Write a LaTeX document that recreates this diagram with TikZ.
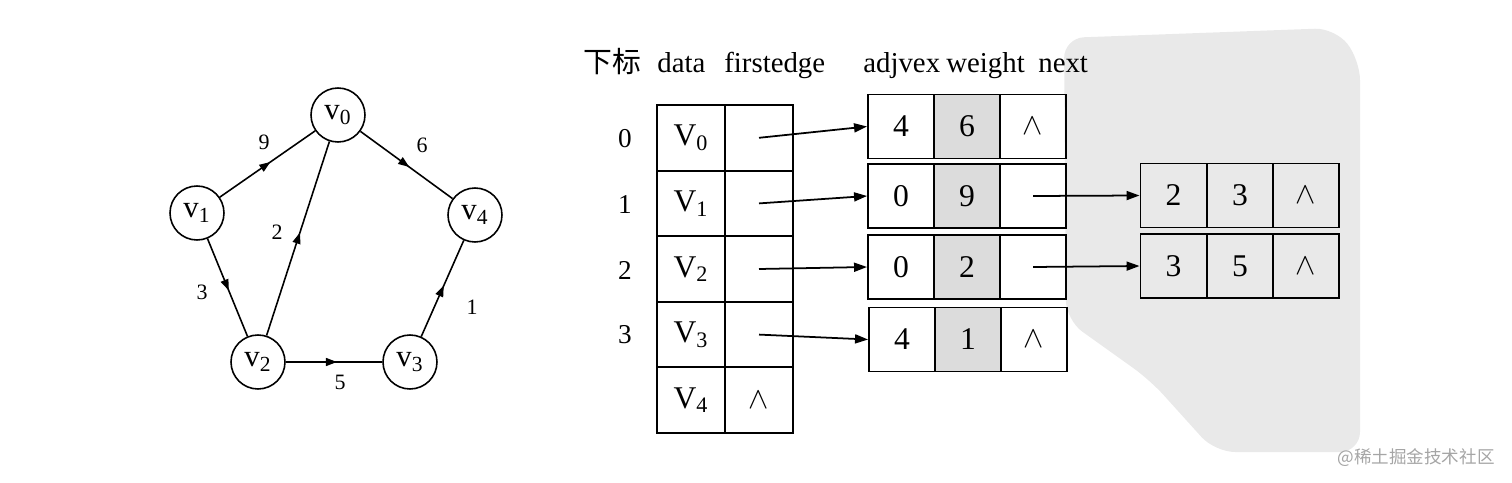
\documentclass[tikz,border=0pt]{standalone}
\usepackage{fontspec}
\setmainfont{Liberation Serif}
\newfontfamily\cjk{Noto Sans CJK SC}
\usetikzlibrary{arrows.meta,decorations.markings}
\definecolor{wmgray}{RGB}{233,233,233}
\definecolor{wgray}{RGB}{220,220,220}
\definecolor{wmtext}{RGB}{165,165,165}
\tikzset{
  cell/.style={draw, line width=1.1pt, minimum width=1.36cm, minimum height=1.312cm, inner sep=0pt, font=\fontsize{18}{18}\selectfont},
  ecell/.style={cell, minimum width=1.32cm, minimum height=1.28cm},
  wcell/.style={ecell, fill=wgray},
  vtx/.style={circle, draw, line width=0.9pt, minimum size=1.08cm, inner sep=0pt, font=\fontsize{17.5}{17.5}\selectfont},
  wlab/.style={font=\fontsize{12.5}{12.5}\selectfont, inner sep=0pt},
  gedge/.style={line width=0.9pt, postaction={decorate}, decoration={markings, mark=at position 0.53 with {\arrow{Triangle[length=0.22cm,width=0.16cm]}}}},
  ptr/.style={line width=1pt, -{Triangle[length=0.26cm,width=0.18cm]}},
  hdr/.style={anchor=base west, font=\fontsize{16.4}{16.4}\selectfont, inner sep=0pt},
  idx/.style={font=\fontsize{15.5}{15.5}\selectfont, inner sep=0pt},
}
\newcommand{\nil}{$\wedge$}
\begin{document}
\begin{tikzpicture}[x=0.02cm, y=-0.02cm]
\useasboundingbox (0,0) rectangle (1512,483);
% watermark background
\fill[wmgray, rounded corners=0.4cm] (1064,38) -- (1335,28) -- (1360,60) -- (1360,452) -- (1215,452) -- (1150,380) -- (1066,320) -- cycle;
\node[anchor=east, text=wmtext, font=\cjk\fontsize{10}{10}\selectfont, inner sep=0pt] (wm) at (1495,458) {@稀土掘金技术社区};

% graph
\node[vtx] (v0) at (338,115) {v\textsubscript{0}};
\node[vtx] (v1) at (197,213) {v\textsubscript{1}};
\node[vtx] (v4) at (475,215) {v\textsubscript{4}};
\node[vtx] (v2) at (258,362) {v\textsubscript{2}};
\node[vtx] (v3) at (410,362) {v\textsubscript{3}};
\draw[gedge] (v1) -- (v0);
\draw[gedge] (v0) -- (v4);
\draw[gedge] (v2) -- (v0);
\draw[gedge] (v1) -- (v2);
\draw[gedge] (v2) -- (v3);
\draw[gedge] (v3) -- (v4);
\node[wlab] (l9) at (264,142) {9};
\node[wlab] (l6) at (422,145) {6};
\node[wlab] (l2) at (277,232) {2};
\node[wlab] (l3) at (202,292) {3};
\node[wlab] (l5) at (340,382) {5};
\node[wlab] (l1) at (472,307) {1};

% headers
\node[hdr] (h0) at (583,73) {\cjk 下标};
\node[hdr] (h1) at (657,73) {data};
\node[hdr] (h2) at (724,73) {firstedge};
\node[hdr] (h3) at (863,73) {adjvex};
\node[hdr] (h4) at (946,73) {weight};
\node[hdr] (h5) at (1038,73) {next};

% index labels
\node[idx] (i0) at (625,139) {0};
\node[idx] (i1) at (625,205) {1};
\node[idx] (i2) at (625,270) {2};
\node[idx] (i3) at (625,335) {3};

% vertex table
\node[cell] (d0) at (691,137.8) {V\textsubscript{0}};
\node[cell] (p0) at (759,137.8) {};
\node[cell] (d1) at (691,203.4) {V\textsubscript{1}};
\node[cell] (p1) at (759,203.4) {};
\node[cell] (d2) at (691,269.0) {V\textsubscript{2}};
\node[cell] (p2) at (759,269.0) {};
\node[cell] (d3) at (691,334.6) {V\textsubscript{3}};
\node[cell] (p3) at (759,334.6) {};
\node[cell] (d4) at (691,400.2) {V\textsubscript{4}};
\node[cell] (p4) at (759,400.2) {\nil};

% edge nodes, first level
\node[ecell] (e0a) at (901,126.5) {4};
\node[wcell] (e0b) at (967,126.5) {6};
\node[ecell] (e0c) at (1033,126.5) {\nil};
\node[ecell] (e1a) at (901,196) {0};
\node[wcell] (e1b) at (967,196) {9};
\node[ecell] (e1c) at (1033,196) {};
\node[ecell] (e2a) at (901,267) {0};
\node[wcell] (e2b) at (967,267) {2};
\node[ecell] (e2c) at (1033,267) {};
\node[ecell] (e3a) at (902,339.5) {4};
\node[wcell] (e3b) at (968,339.5) {1};
\node[ecell] (e3c) at (1034,339.5) {\nil};

% edge nodes, second level
\node[ecell] (f1a) at (1173.5,195.5) {2};
\node[ecell] (f1b) at (1240,195.5) {3};
\node[ecell] (f1c) at (1306,195.5) {\nil};
\node[ecell] (f2a) at (1173.5,266) {3};
\node[ecell] (f2b) at (1240,266) {5};
\node[ecell] (f2c) at (1306,266) {\nil};

% pointers
\draw[ptr] (p0.center) -- (e0a.west);
\draw[ptr] (p1.center) -- (e1a.west);
\draw[ptr] (p2.center) -- (e2a.west);
\draw[ptr] (p3.center) -- (e3a.west);
\draw[ptr] (e1c.center) -- (f1a.west);
\draw[ptr] (e2c.center) -- (f2a.west);
\end{tikzpicture}
\end{document}
